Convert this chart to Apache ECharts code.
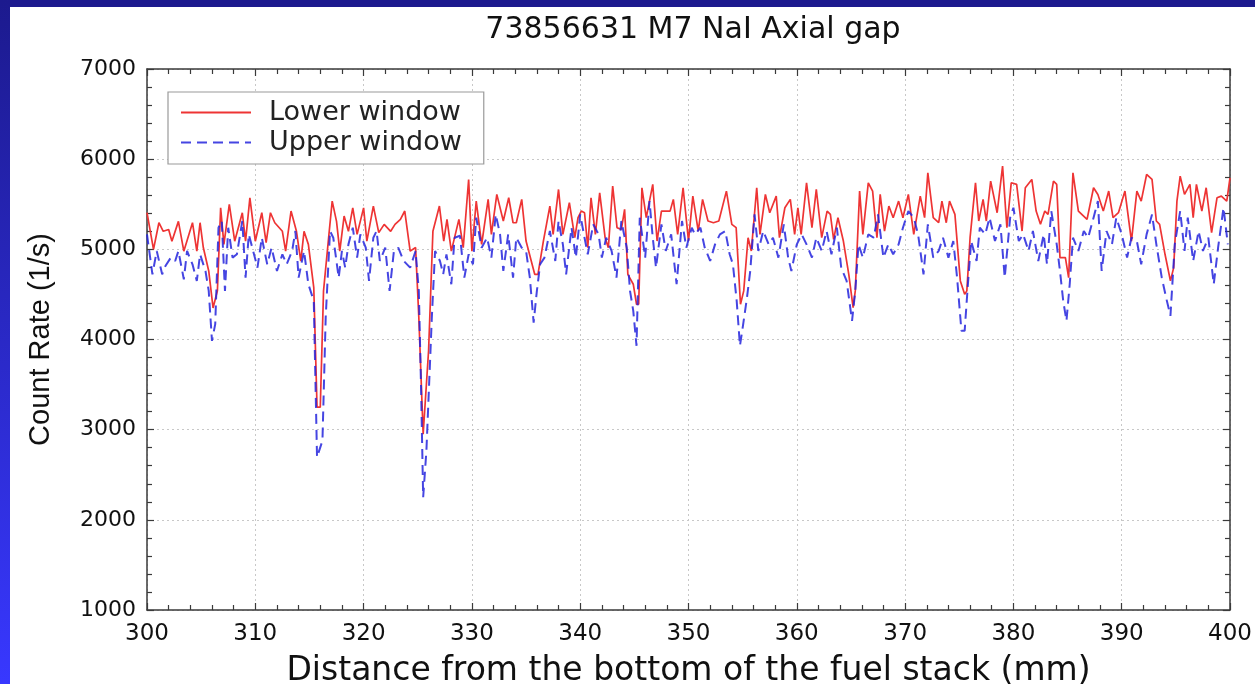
<!DOCTYPE html>
<html>
<head>
<meta charset="utf-8">
<script src="https://cdn.jsdelivr.net/npm/echarts@6/dist/echarts.min.js"></script>
<style>
html,body{margin:0;padding:0;background:#fff;}
#c{width:1255px;height:684px;}
</style>
</head>
<body>
<div id="c"></div>
<script>
const titleText = "73856631 M7 NaI Axial gap";
const xName = "Distance from the bottom of the fuel stack (mm)";
const yName = "Count Rate (1/s)";
const seriesNames = ["Lower window", "Upper window"];

const lowerX = [300.0,300.6,301.1,301.5,302.0,302.3,302.9,303.4,304.2,304.6,304.9,305.2,305.7,306.1,306.5,306.8,307.1,307.6,308.1,308.8,309.1,309.5,310.0,310.6,311.0,311.4,311.8,312.5,312.8,313.3,313.8,314.2,314.5,314.9,315.4,315.7,316.0,316.3,316.8,317.1,317.5,317.8,318.2,318.6,319.0,319.4,320.0,320.3,320.9,321.4,321.9,322.5,322.9,323.4,323.8,324.3,324.8,325.1,325.5,326.0,326.4,327.0,327.4,327.7,328.1,328.8,329.2,329.7,330.0,330.4,330.9,331.5,331.8,332.3,332.9,333.4,333.8,334.1,334.6,335.0,335.8,336.1,336.6,337.2,337.5,338.0,338.4,339.0,339.5,339.8,340.1,340.4,340.7,341.0,341.4,341.8,342.3,342.6,343.0,343.4,343.8,344.1,344.4,344.9,345.2,345.4,345.7,346.1,346.7,347.1,347.5,348.3,348.6,349.0,349.5,350.0,350.4,350.9,351.3,351.8,352.3,352.8,353.5,354.0,354.4,354.8,355.1,355.5,355.8,356.3,356.6,357.1,357.5,358.1,358.4,358.9,359.4,359.8,360.1,360.4,360.9,361.4,361.8,362.3,362.8,363.1,363.4,363.8,364.3,364.8,365.2,365.4,365.8,366.1,366.6,367.0,367.4,367.7,368.1,368.5,368.9,369.4,369.8,370.3,370.8,371.4,371.8,372.1,372.6,373.1,373.4,373.8,374.1,374.6,375.1,375.5,375.7,376.0,376.5,376.8,377.2,377.5,377.9,378.5,379.0,379.4,379.8,380.3,380.8,381.1,381.7,382.1,382.5,382.9,383.2,383.7,384.0,384.3,384.8,385.1,385.5,386.0,386.8,387.4,387.8,388.3,388.8,389.2,389.7,390.3,390.9,391.4,391.8,392.3,392.8,393.2,393.5,394.0,394.5,394.8,395.1,395.4,395.8,396.3,396.6,396.9,397.4,397.8,398.3,398.8,399.2,399.7,400.0];
const lowerY = [5406,5000,5295,5200,5220,5090,5310,4980,5295,4980,5295,5020,4760,4350,4540,5460,5055,5500,5090,5406,5090,5570,5090,5406,5074,5406,5295,5200,4980,5425,5200,4870,5200,5055,4575,3250,3250,4540,5166,5535,5310,4980,5369,5200,5460,5166,5460,5090,5480,5185,5277,5200,5277,5332,5425,4980,5020,4245,2950,3875,5200,5480,5090,5332,4980,5332,5018,5775,4980,5535,5055,5554,5166,5609,5314,5572,5295,5295,5554,5092,4723,4723,5092,5480,5166,5664,5166,5517,5129,5351,5424,5406,5018,5572,5166,5627,5129,5018,5701,5240,5221,5443,4723,4613,4391,4391,5683,5351,5720,5092,5424,5424,5554,5166,5683,5092,5590,5203,5554,5314,5295,5314,5646,5277,5240,4391,4539,5129,4982,5683,5166,5609,5406,5590,5129,5461,5554,5166,5461,5166,5738,5240,5664,5129,5424,5387,5111,5351,5092,4723,4354,4539,5646,5166,5738,5646,5129,5609,5203,5480,5351,5535,5351,5609,5166,5590,5351,5849,5351,5295,5535,5295,5535,5387,4650,4502,4539,5129,5738,5314,5554,5314,5756,5406,5923,5240,5738,5720,5203,5683,5775,5424,5277,5424,5387,5756,5720,4908,4908,4686,5849,5424,5332,5683,5609,5424,5646,5351,5406,5646,5092,5646,5535,5830,5775,5314,5277,4945,4650,4797,5535,5812,5609,5720,5351,5720,5424,5683,5185,5572,5590,5535,5793];

const upperX = [300.0,300.5,300.9,301.4,301.7,302.2,302.6,302.9,303.4,303.7,304.2,304.6,304.9,305.4,305.7,306.0,306.3,306.6,306.9,307.2,307.5,307.9,308.3,308.8,309.1,309.4,309.8,310.2,310.6,311.1,311.5,312.0,312.5,312.9,313.4,313.7,314.0,314.5,314.9,315.4,315.7,316.2,316.5,316.9,317.2,317.7,318.0,318.3,318.6,319.0,319.4,319.7,320.2,320.5,320.9,321.2,321.5,322.0,322.4,322.8,323.2,323.7,324.3,324.8,325.1,325.3,325.5,325.8,326.3,326.6,327.05,327.35,327.65,328.1,328.4,328.9,329.3,329.7,330.1,330.4,330.9,331.4,331.8,332.2,332.6,332.9,333.35,333.8,334.1,334.6,335.0,335.35,335.7,336.0,336.3,336.7,337.2,337.7,338.0,338.4,338.7,339.2,339.6,340.0,340.4,340.7,341.2,341.7,342.0,342.4,342.9,343.35,343.8,344.3,344.6,344.9,345.2,345.5,346.0,346.4,346.7,347.0,347.5,347.9,348.4,348.9,349.4,349.8,350.3,350.6,351.1,351.5,352.0,352.45,352.9,353.4,353.8,354.1,354.45,354.75,355.05,355.4,355.7,356.1,356.45,356.9,357.4,357.8,358.3,358.8,359.2,359.5,360.0,360.45,360.9,361.4,361.8,362.3,362.75,363.2,363.7,364.1,364.6,365.1,365.4,365.7,366.1,366.6,367.1,367.5,368.0,368.45,368.9,369.4,369.8,370.3,370.8,371.2,371.7,372.1,372.6,373.1,373.5,374.0,374.45,374.8,375.2,375.5,375.8,376.1,376.6,376.9,377.4,377.8,378.3,378.8,379.2,379.7,380.0,380.5,380.9,381.4,381.8,382.3,382.8,383.1,383.5,384.0,384.3,384.6,384.9,385.2,385.5,386.0,386.5,386.9,387.4,387.8,388.15,388.6,389.1,389.5,390.0,390.5,390.9,391.4,391.8,392.3,392.8,393.2,393.7,394.1,394.5,394.9,395.4,395.8,396.1,396.6,397.1,397.5,398.0,398.5,398.9,399.4,399.8];
const upperY = [5166,4723,4982,4723,4815,4908,4871,4982,4668,4982,4834,4650,4945,4760,4539,3985,4170,5240,5314,4539,5240,4908,4945,5314,4686,5166,4982,4797,5129,4834,5018,4760,4945,4834,4982,5203,4686,4982,4613,4428,2694,2878,4244,5203,5129,4686,4982,4797,5055,5240,4908,5166,5018,4650,5129,5203,4871,5018,4539,4982,5018,4871,4797,4982,4539,3500,2250,2768,4244,4982,4871,4723,4945,4613,5129,5150,4686,4945,4834,5351,5018,5129,4908,5387,5166,4760,5166,4686,5129,5018,4982,4686,4188,4539,4834,4908,5203,4871,5314,5055,4723,5240,4908,5387,5129,4945,5277,5166,4908,5129,4982,4686,5314,5018,4539,4317,3930,5351,4908,5535,5129,4797,5277,4982,5166,4613,5314,5018,5240,5166,5240,5018,4871,5055,5166,5203,4945,4834,4428,3930,4170,4465,4760,5387,4982,5203,5055,5129,4908,5277,4908,4760,5055,5166,5055,4908,5129,4982,5203,4945,5240,4797,4650,4207,4539,5055,4908,5166,5129,5387,4908,5055,4945,5055,5240,5424,5351,5166,4723,5277,4908,4982,5129,4908,5092,4686,4096,4096,4613,5092,4871,5240,5166,5351,5092,5277,4686,5351,5461,5092,5166,4982,5203,4871,5166,4834,5424,5055,4760,4428,4207,4613,5129,4982,5203,5129,5351,5535,4760,5203,5055,5351,5166,4908,5129,5092,4834,5166,5387,5055,4686,4465,4262,5055,5424,4982,5351,4871,5203,4982,5129,4613,5018,5461,5055];

const xTicks = {min: 300, max: 400, step: 10};
const yTicks = {min: 1000, max: 7000, step: 1000};

const lowerData = lowerX.map((x, i) => [x, lowerY[i]]);
const upperData = upperX.map((x, i) => [x, upperY[i]]);

const chart = echarts.init(document.getElementById('c'));

const axisLineStyle = {color: '#3a3a3a', width: 1.5};
const tickStyle = {color: '#3a3a3a', width: 1.2};
const gridLine = {show: true, lineStyle: {color: '#c8c8c8', type: [2, 3], width: 1}};
const plainNum = v => String(v);

function xAx(pos, labels) {
  return {
    type: 'value', position: pos, min: xTicks.min, max: xTicks.max, interval: xTicks.step,
    axisLine: {show: true, onZero: false, lineStyle: axisLineStyle},
    axisTick: {show: true, inside: true, length: 7, lineStyle: tickStyle},
    minorTick: {show: true, splitNumber: 5, length: 5, lineStyle: tickStyle},
    splitLine: labels ? gridLine : {show: false},
    axisLabel: labels ? {show: true, formatter: plainNum, fontFamily: 'DejaVu Sans', fontSize: 23, color: '#111', margin: 13} : {show: false},
    name: labels ? xName : '', nameLocation: 'middle', nameGap: 45,
    nameTextStyle: {fontFamily: 'DejaVu Sans', fontSize: 33, color: '#111'}
  };
}
function yAx(pos, labels) {
  return {
    type: 'value', position: pos, min: yTicks.min, max: yTicks.max, interval: yTicks.step,
    axisLine: {show: true, onZero: false, lineStyle: axisLineStyle},
    axisTick: {show: true, inside: true, length: 7, lineStyle: tickStyle},
    minorTick: {show: true, splitNumber: 5, length: 5, lineStyle: tickStyle},
    splitLine: labels ? gridLine : {show: false},
    axisLabel: labels ? {show: true, formatter: plainNum, fontFamily: 'DejaVu Sans', fontSize: 22, color: '#111', margin: 11} : {show: false},
    name: labels ? yName : '', nameLocation: 'middle', nameGap: 92, nameRotate: 90,
    nameTextStyle: {fontFamily: 'Liberation Sans', fontSize: 29, color: '#111'}
  };
}

chart.setOption({
  animation: false,
  backgroundColor: '#ffffff',
  title: {
    text: titleText, left: 688, top: 10, textAlign: 'center',
    textStyle: {fontFamily: 'DejaVu Sans', fontSize: 30, fontWeight: 'normal', color: '#111'}
  },
  graphic: [
    {type: 'rect', left: 0, top: 0, shape: {width: 1255, height: 7}, style: {fill: '#1c1a8e'}, z: 100},
    {type: 'rect', left: 0, top: 0, shape: {width: 10, height: 684},
     style: {fill: new echarts.graphic.LinearGradient(0, 0, 0, 1, [{offset: 0, color: '#1c1a8e'}, {offset: 1, color: '#3838ff'}])}, z: 100}
  ],
  grid: {left: 147, right: 25, top: 69, bottom: 74, containLabel: false, outerBoundsMode: 'none'},
  legend: {
    orient: 'vertical', left: 168, top: 92,
    itemWidth: 70, itemHeight: 2, itemGap: 3,
    itemStyle: {opacity: 0},
    backgroundColor: '#fff', borderColor: '#9a9a9a', borderWidth: 1.2, borderRadius: 0,
    padding: [7, 22, 8, 12],
    textStyle: {fontFamily: 'DejaVu Sans', fontSize: 27, color: '#222', padding: [0, 0, 0, 13]},
    data: seriesNames
  },
  xAxis: [xAx('bottom', true), xAx('top', false)],
  yAxis: [yAx('left', true), yAx('right', false)],
  series: [
    {
      name: seriesNames[0], type: 'line', data: lowerData, symbol: 'none', showSymbol: false,
      lineStyle: {color: '#ee3434', width: 1.7}, itemStyle: {color: '#ee3434'}, z: 2
    },
    {
      name: seriesNames[1], type: 'line', data: upperData, symbol: 'none', showSymbol: false,
      lineStyle: {color: '#2424dd', width: 2, type: [10, 6], opacity: 0.85}, itemStyle: {color: '#2424dd'}, z: 3
    }
  ]
});
</script>
</body>
</html>
